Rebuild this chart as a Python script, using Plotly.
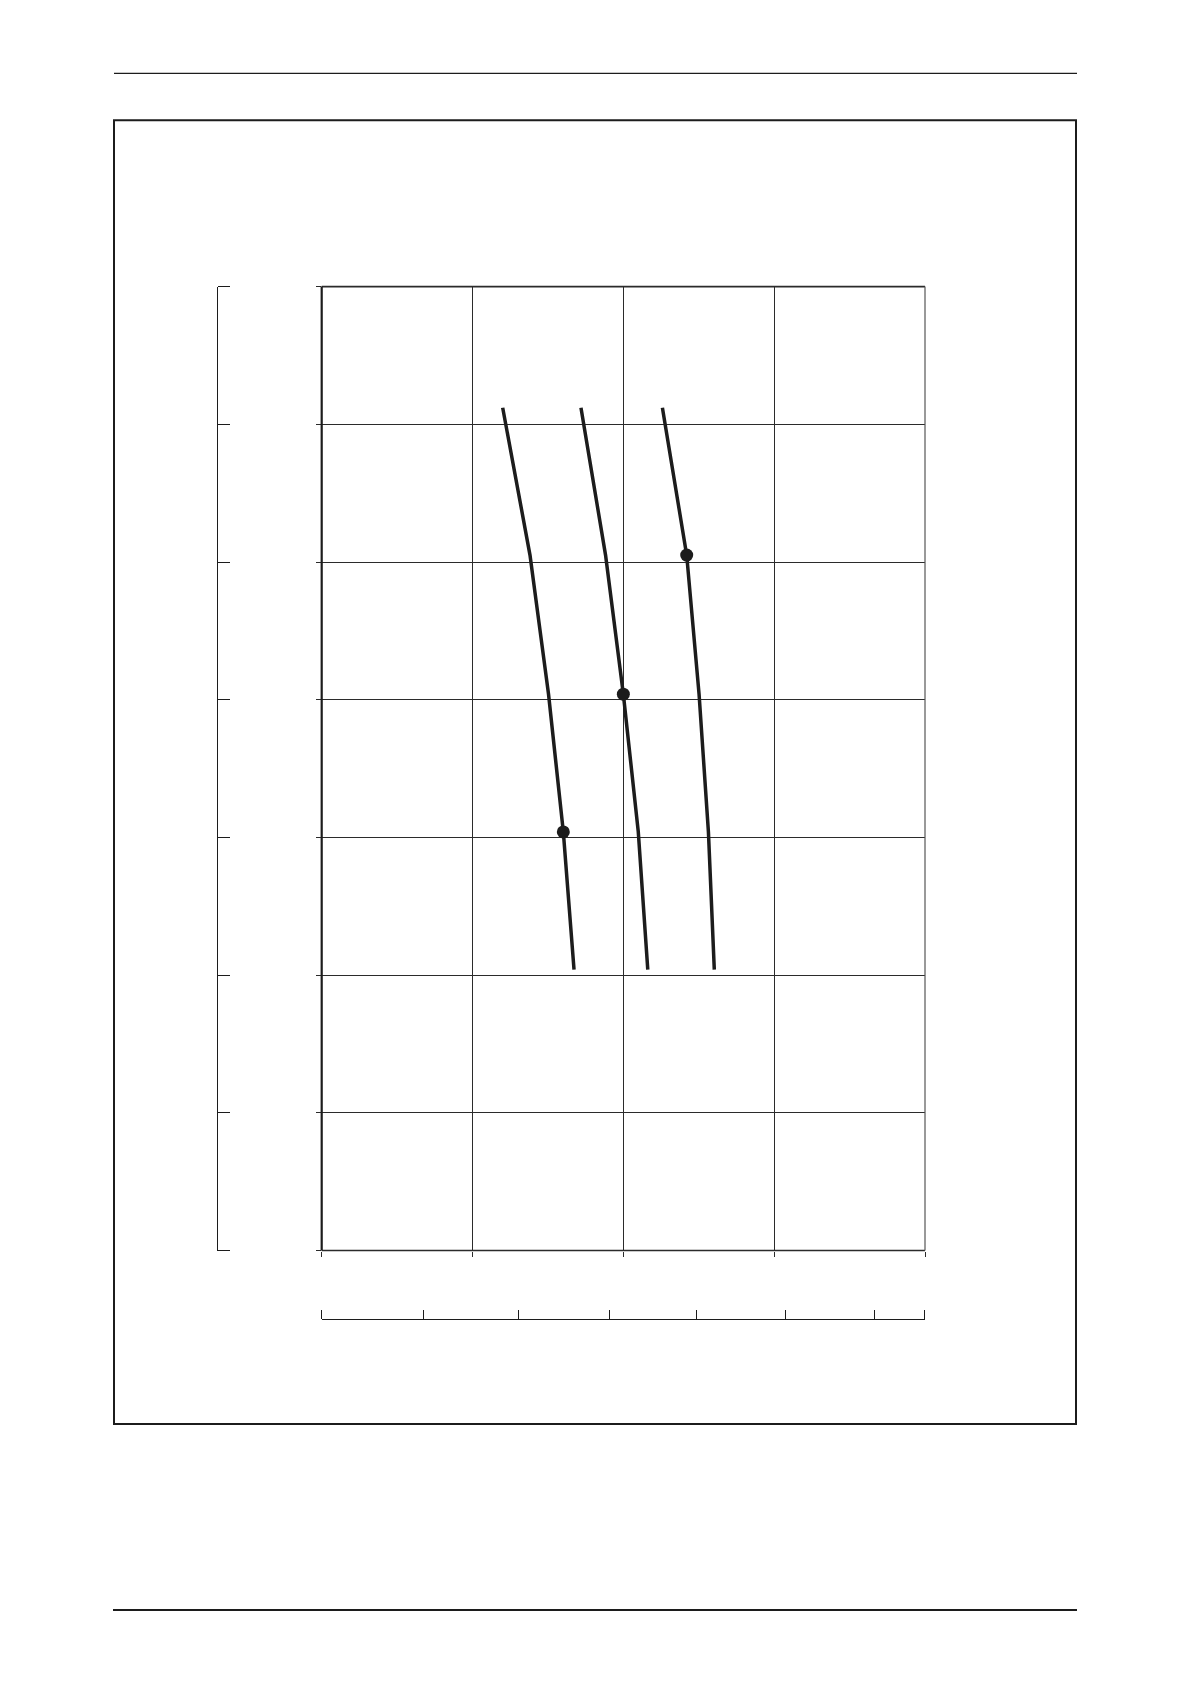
import plotly.graph_objects as go

# ---- data (in axis units) ----
y_levels = [6.12, 5.05, 4.04, 3.04, 2.04]
curve_a_x = [1.200, 1.381, 1.504, 1.602, 1.673]
curve_b_x = [1.719, 1.882, 2.000, 2.099, 2.162]
curve_c_x = [2.259, 2.420, 2.502, 2.564, 2.603]
marker_a = (1.602, 3.04)
marker_b = (2.000, 4.04)
marker_c = (2.420, 5.05)

x_range = [0, 4]
y_range = [0, 7]
x_ticks = [0, 1, 2, 3, 4]
y_ticks = [0, 1, 2, 3, 4, 5, 6, 7]
x2_ticks = [0, 0.672, 1.302, 1.906, 2.486, 3.078, 3.668, 3.995]

W, H = 1191, 1684
def px(x):
    return x / W
def py(y):
    return 1 - y / H

INK = "#1c1c1c"
GRID = "#2b2b2b"

fig = go.Figure()
for xs in (curve_a_x, curve_b_x, curve_c_x):
    fig.add_trace(go.Scatter(x=xs, y=y_levels, mode="lines",
                             line=dict(color=INK, width=3.5),
                             showlegend=False, hoverinfo="skip"))
mx = [marker_a[0], marker_b[0], marker_c[0]]
my = [marker_a[1], marker_b[1], marker_c[1]]
fig.add_trace(go.Scatter(x=mx, y=my, mode="markers",
                         marker=dict(color=INK, size=13),
                         showlegend=False, hoverinfo="skip"))
# empty trace so the secondary (scale) axes get drawn
fig.add_trace(go.Scatter(x=[None], y=[None], xaxis="x2", yaxis="y2",
                         mode="lines", showlegend=False, hoverinfo="skip"))

dom_x = [px(321.7), px(925.0)]
dom_y = [py(1250.5), py(286.6)]

fig.update_layout(
    width=W, height=H,
    margin=dict(l=0, r=0, t=0, b=0),
    paper_bgcolor="white", plot_bgcolor="white",
    xaxis=dict(domain=dom_x, range=x_range, tickvals=x_ticks,
               showticklabels=False, showgrid=True, gridcolor=GRID, gridwidth=1,
               zeroline=False, showline=False,
               ticks="outside", ticklen=5, tickcolor=GRID, tickwidth=1,
               fixedrange=True),
    yaxis=dict(domain=dom_y, range=y_range, tickvals=y_ticks,
               showticklabels=False, showgrid=True, gridcolor=GRID, gridwidth=1,
               zeroline=False, showline=False,
               ticks="outside", ticklen=5, tickcolor=GRID, tickwidth=1,
               fixedrange=True),
    # separate scale on the left: side="right" so its outside ticks point right
    yaxis2=dict(overlaying="y", anchor="free", position=px(217.3), side="right",
                domain=dom_y, range=y_range, tickvals=y_ticks,
                showticklabels=False, showgrid=False, zeroline=False,
                showline=True, linecolor=INK, linewidth=1.3,
                ticks="outside", ticklen=12, tickcolor=INK, tickwidth=1.3,
                fixedrange=True),
    # separate scale below: side="top" so its outside ticks point up
    xaxis2=dict(overlaying="x", anchor="free", position=py(1319.3), side="top",
                domain=dom_x, range=x_range, tickvals=x2_ticks,
                showticklabels=False, showgrid=False, zeroline=False,
                showline=True, linecolor=INK, linewidth=1.3,
                ticks="outside", ticklen=9, tickcolor=INK, tickwidth=1.3,
                fixedrange=True),
)

# plot-area border (paper-referenced so the strokes are not clipped)
L, R = dom_x
B, T = dom_y
fig.add_shape(type="line", xref="paper", yref="paper", x0=L, x1=R, y0=B, y1=B,
              line=dict(color=GRID, width=1.4))
fig.add_shape(type="line", xref="paper", yref="paper", x0=L, x1=R, y0=T, y1=T,
              line=dict(color=GRID, width=1.6))
fig.add_shape(type="line", xref="paper", yref="paper", x0=R, x1=R, y0=B, y1=T,
              line=dict(color="#555555", width=1.2))
fig.add_shape(type="line", xref="paper", yref="paper", x0=L, x1=L, y0=B, y1=T,
              line=dict(color=INK, width=2.2))

# page decorations: header rule, figure frame, footer rule
fig.add_shape(type="line", xref="paper", yref="paper",
              x0=px(114), x1=px(1077), y0=py(73.3), y1=py(73.3),
              line=dict(color=INK, width=1.3))
fig.add_shape(type="rect", xref="paper", yref="paper",
              x0=px(114), x1=px(1076), y0=py(1424), y1=py(120.3),
              line=dict(color=INK, width=2))
fig.add_shape(type="line", xref="paper", yref="paper",
              x0=px(113), x1=px(1077), y0=py(1610), y1=py(1610),
              line=dict(color=INK, width=2))

fig.write_html("out.html", config={"displayModeBar": False},
               post_script="document.body.style.margin='0';")
